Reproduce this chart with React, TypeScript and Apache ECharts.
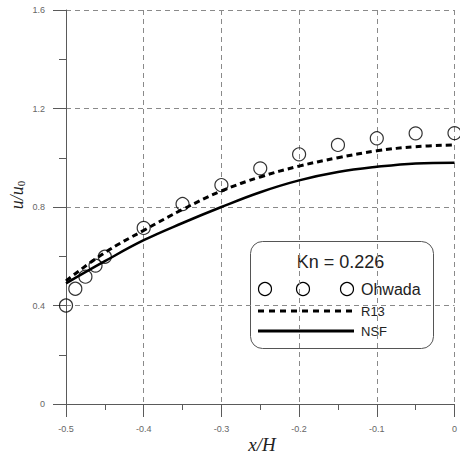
import React, { useEffect, useRef } from "react";
import * as echarts from "echarts";

const ohwadaX = [-0.5, -0.488, -0.475, -0.462, -0.45, -0.4, -0.35, -0.3, -0.25, -0.2, -0.15, -0.1, -0.05, 0];
const ohwadaY = [0.40, 0.468, 0.517, 0.562, 0.598, 0.715, 0.812, 0.889, 0.957, 1.014, 1.052, 1.079, 1.099, 1.10];

const lineX = [-0.5, -0.45, -0.4, -0.35, -0.3, -0.25, -0.2, -0.15, -0.1, -0.05, 0];
const r13Y = [0.50, 0.615, 0.705, 0.79, 0.865, 0.922, 0.966, 1.0, 1.028, 1.045, 1.052];
const nsfY = [0.49, 0.58, 0.665, 0.735, 0.80, 0.86, 0.908, 0.942, 0.963, 0.977, 0.98];

const seriesNames = ["Ohwada", "R13", "NSF"];
const legendTitle = "Kn = 0.226";

export default function App() {
  const ref = useRef<HTMLDivElement>(null);
  useEffect(() => {
    if (!ref.current) return;
    const chart = echarts.init(ref.current, null, { renderer: "svg" });
    const gridColor = "#8a8a8a";
    const axisColor = "#5a5a5a";
    const labelColor = "#666";
    chart.setOption({
      animation: false,
      backgroundColor: "#fff",
      grid: { left: 66, right: 1, top: 10, bottom: 50 },
      xAxis: {
        type: "value",
        min: -0.5,
        max: 0,
        interval: 0.1,
        axisLine: { show: true, onZero: false, lineStyle: { color: axisColor, width: 1 } },
        axisTick: { show: true, length: 13, lineStyle: { color: axisColor, width: 1 } },
        minorTick: { show: true, splitNumber: 2, length: 6, lineStyle: { color: axisColor, width: 1 } },
        axisLabel: { color: labelColor, fontSize: 9, fontFamily: "Liberation Sans, Arial", margin: 20 },
        splitLine: { show: true, lineStyle: { color: gridColor, type: [5, 4], width: 1 } },
      },
      yAxis: {
        type: "value",
        min: 0,
        max: 1.6,
        interval: 0.4,
        axisLine: { show: true, onZero: false, lineStyle: { color: axisColor, width: 1 } },
        axisTick: { show: true, length: 13, lineStyle: { color: axisColor, width: 1 } },
        minorTick: { show: true, splitNumber: 2, length: 7, lineStyle: { color: axisColor, width: 1 } },
        axisLabel: { color: labelColor, fontSize: 9, fontFamily: "Liberation Sans, Arial", margin: 21 },
        splitLine: { show: true, lineStyle: { color: gridColor, type: [5, 4], width: 1 } },
      },
      series: [
        {
          name: seriesNames[1],
          type: "line",
          data: lineX.map((x, i) => [x, r13Y[i]]),
          showSymbol: false,
          smooth: 0.4,
          lineStyle: { color: "#000", width: 3, type: [6, 4] },
          z: 3,
        },
        {
          name: seriesNames[2],
          type: "line",
          data: lineX.map((x, i) => [x, nsfY[i]]),
          showSymbol: false,
          smooth: 0.4,
          lineStyle: { color: "#000", width: 2.5, type: "solid" },
          z: 3,
        },
        {
          name: seriesNames[0],
          type: "scatter",
          data: ohwadaX.map((x, i) => [x, ohwadaY[i]]),
          symbol: "circle",
          symbolSize: 13,
          itemStyle: { color: "transparent", borderColor: "#000", borderWidth: 1.2 },
          z: 4,
        },
      ],
      graphic: [
        {
          type: "text",
          x: 17,
          y: 195,
          rotation: Math.PI / 2,
          style: {
            text: "{i|u/u}{s|0}",
            align: "center",
            verticalAlign: "middle",
            rich: {
              i: { fontFamily: "Liberation Serif, Times New Roman, serif", fontStyle: "italic", fontSize: 18, fill: "#222" },
              s: { fontFamily: "Liberation Serif, Times New Roman, serif", fontSize: 11, fill: "#222", verticalAlign: "bottom", padding: [8, 0, 0, 0] },
            },
          },
        },
        {
          type: "text",
          x: 262,
          y: 444,
          style: {
            text: "x/H",
            align: "center",
            verticalAlign: "middle",
            fontFamily: "Liberation Serif, Times New Roman, serif",
            fontStyle: "italic",
            fontSize: 19,
            fill: "#222",
          },
        },
        {
          type: "group",
          z: 100,
          children: [
            {
              type: "rect",
              shape: { x: 250.5, y: 241.5, width: 183, height: 107, r: 12 },
              style: { fill: "#fff", stroke: "#555", lineWidth: 1 },
            },
            {
              type: "text",
              x: 340.5,
              y: 262,
              style: { text: legendTitle, align: "center", verticalAlign: "middle", fontFamily: "Liberation Sans, Arial", fontSize: 18, fill: "#222" },
            },
            { type: "circle", shape: { cx: 265, cy: 289, r: 6.5 }, style: { fill: "none", stroke: "#000", lineWidth: 1.2 } },
            { type: "circle", shape: { cx: 303, cy: 289, r: 6.5 }, style: { fill: "none", stroke: "#000", lineWidth: 1.2 } },
            { type: "circle", shape: { cx: 347, cy: 289, r: 6.5 }, style: { fill: "none", stroke: "#000", lineWidth: 1.2 } },
            {
              type: "text",
              x: 361,
              y: 289,
              style: { text: seriesNames[0], align: "left", verticalAlign: "middle", fontFamily: "Liberation Sans, Arial", fontSize: 16, fill: "#222" },
            },
            {
              type: "line",
              shape: { x1: 258, y1: 311, x2: 354, y2: 311 },
              style: { stroke: "#000", lineWidth: 3, lineDash: [6, 5] },
            },
            {
              type: "text",
              x: 361,
              y: 311,
              style: { text: seriesNames[1], align: "left", verticalAlign: "middle", fontFamily: "Liberation Sans, Arial", fontSize: 13, fill: "#222" },
            },
            {
              type: "line",
              shape: { x1: 258, y1: 331, x2: 354, y2: 331 },
              style: { stroke: "#000", lineWidth: 3 },
            },
            {
              type: "text",
              x: 361,
              y: 331,
              style: { text: seriesNames[2], align: "left", verticalAlign: "middle", fontFamily: "Liberation Sans, Arial", fontSize: 13, fill: "#222" },
            },
          ],
        },
      ],
    });
    return () => chart.dispose();
  }, []);
  return (
    <div
      ref={ref}
      style={{ position: "fixed", left: 0, top: 0, width: 460, height: 454, background: "#fff" }}
    />
  );
}
